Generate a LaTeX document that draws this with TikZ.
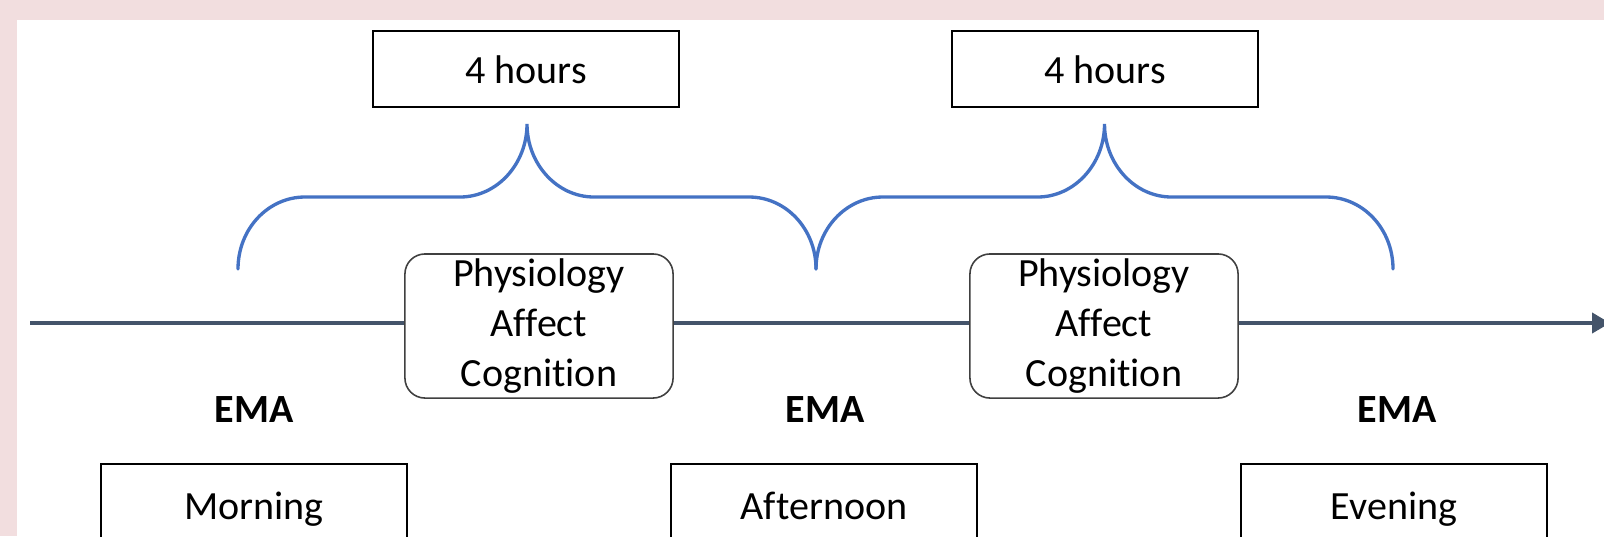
\documentclass[tikz,border=0pt]{standalone}
\usepackage{fontspec}
\setmainfont{Carlito}[Ligatures=NoCommon]
\usepackage{tikz}
\usetikzlibrary{arrows.meta,positioning}
\definecolor{bracecol}{HTML}{4472C4}
\definecolor{axiscol}{HTML}{44546A}
\definecolor{framecol}{RGB}{242,222,223}
\newcommand{\picfont}{\fontsize{11.38pt}{14.23pt}\selectfont}
\tikzstyle{hourbox} = [draw=black, line width=0.7pt, fill=white, minimum width=3.06cm, minimum height=0.76cm, inner sep=0pt, text height=0.28cm, text depth=0cm]
\tikzstyle{slotbox} = [hourbox, minimum height=0.9cm, text depth=0.08cm]
\tikzstyle{measbox} = [draw=black!75, line width=0.45pt, fill=white, rounded corners=0.2cm, minimum width=2.68cm, minimum height=1.44cm, inner sep=0pt, align=center]
\tikzstyle{emalabel} = [font=\picfont\bfseries]
\tikzstyle{bracepath} = [draw=bracecol, line width=0.95pt, line cap=round]
\tikzstyle{axisline} = [draw=axiscol, line width=1.15pt, -{Triangle[length=0.18cm,width=0.2cm]}]
% curly brace between x=#1 and x=#2, tip pointing up
\newcommand{\hourbrace}[2]{%
  \pgfmathsetmacro{\bracemid}{(#1+#2)/2}
  \draw[bracepath] (#1,269) .. controls (#1,229) and ({#1+30},197) .. ({#1+67},197)
    -- ({\bracemid-67},197) .. controls ({\bracemid-30},197) and (\bracemid,164) .. (\bracemid,124)
    .. controls (\bracemid,164) and ({\bracemid+30},197) .. ({\bracemid+67},197)
    -- ({#2-67},197) .. controls ({#2-30},197) and (#2,229) .. (#2,269);
}
\begin{document}
\begin{tikzpicture}[x=0.01cm, y=-0.01cm, font=\picfont]
\useasboundingbox (0,0) rectangle (1604,536);
\fill[framecol] (0,0) rectangle (1604,536);
\fill[white] (17,20) rectangle (1604,536);
% time axis
\coordinate (tstart) at (30,323);
\coordinate (tend) at (1610,323);
\draw[axisline] (tstart) -- (tend);
% braces
\hourbrace{238}{816}
\hourbrace{816}{1393}
% intervals
\node[hourbox] (gap1) at (526,69) {4 hours};
\node[hourbox] (gap2) at (1105,69) {4 hours};
\node[measbox] (meas1) at (539,326) {Physiology\\Affect\\Cognition};
\node[measbox] (meas2) at (1104,326) {Physiology\\Affect\\Cognition};
% prompts
\node[emalabel] (ema1) at (254,410) {EMA};
\node[emalabel] (ema2) at (825,410) {EMA};
\node[emalabel] (ema3) at (1397,410) {EMA};
\node[slotbox] (morning) at (254,509) {Morning};
\node[slotbox] (afternoon) at (824,509) {Afternoon};
\node[slotbox] (evening) at (1394,509) {Evening};
\end{tikzpicture}
\end{document}
